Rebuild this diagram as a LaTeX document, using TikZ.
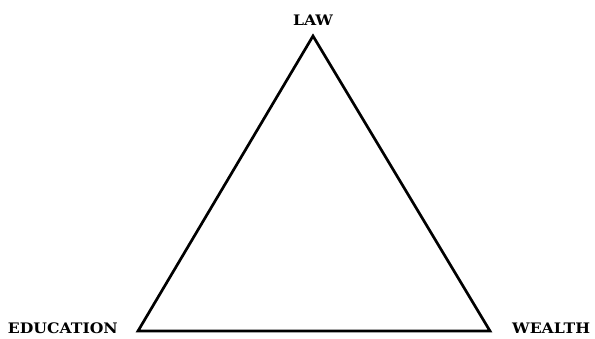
\documentclass[tikz,border=0pt]{standalone}
\usepackage{fontspec}
\newfontfamily\labelfont{DejaVu Serif}
\begin{document}
\begin{tikzpicture}[x=1pt,y=-1pt,
  lbl/.style={font=\labelfont\bfseries\fontsize{14.5}{14.5}\selectfont, inner sep=0pt},
  edge/.style={line width=2.7pt, line join=miter}]
\useasboundingbox (0,0) rectangle (595,338);
\coordinate (top) at (313,36);
\coordinate (bl) at (138,331);
\coordinate (br) at (490,331);
\draw[edge] (top) -- (bl) -- (br) -- cycle;
\node[lbl, anchor=base] (law) at (313,25) {\scalebox{1.08}[1]{LAW}};
\node[lbl, anchor=base east] (edu) at (118,333) {\scalebox{1.08}[1]{EDUCATION}};
\node[lbl, anchor=base west] (wealth) at (512,333) {\scalebox{1.08}[1]{WEALTH}};
\end{tikzpicture}
\end{document}
